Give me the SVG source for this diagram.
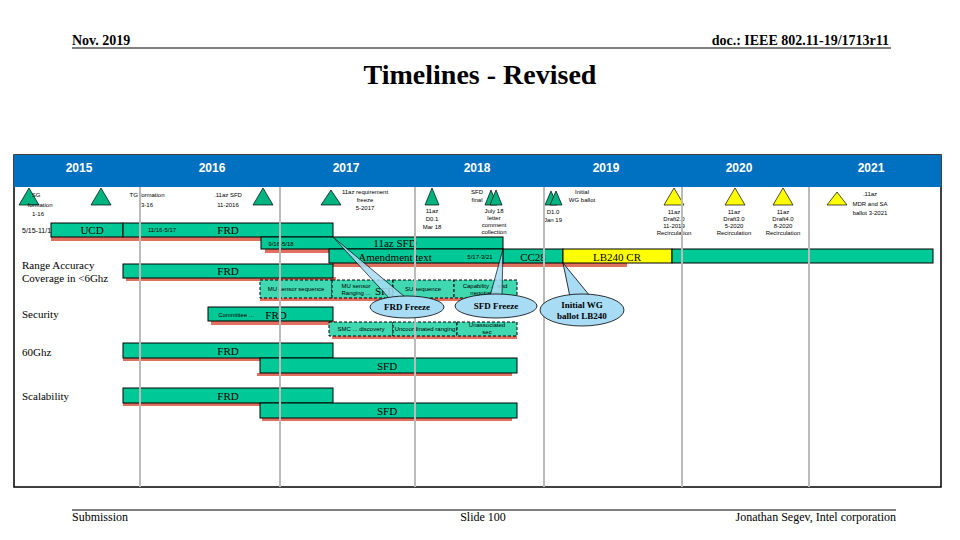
<svg xmlns="http://www.w3.org/2000/svg" width="960" height="540" viewBox="0 0 960 540">
<style>
.ser{font-family:"Liberation Serif","Times New Roman",serif;fill:#000}
.san{font-family:"Liberation Sans",Arial,sans-serif;fill:#000}
.yr{font-family:"Liberation Sans",Arial,sans-serif;fill:#fff;font-size:12px;text-anchor:middle;font-weight:bold}
.bar{fill:#00c896;stroke:#000;stroke-width:1}
.sh{fill:#e0705f}
.db{fill:#40d8b0;stroke:#000;stroke-width:1;stroke-dasharray:3,2}
.tg{fill:#00b482;stroke:#000;stroke-width:0.7}
.ty{fill:#ffff00;stroke:#000;stroke-width:0.7}
.sm{font-family:"Liberation Sans",Arial,sans-serif;font-size:6px;text-anchor:middle;fill:#000}
.bt{font-family:"Liberation Serif","Times New Roman",serif;font-size:11px;text-anchor:middle;fill:#000}
.co{fill:#a8dcf5;stroke:#000;stroke-width:0.8}
.div{stroke:#bbb;stroke-width:2}
</style>
<rect width="960" height="540" fill="#fff"/>
<g id="header">
<text x="72" y="45" class="ser" font-size="14" font-weight="bold">Nov. 2019</text>
<text x="889" y="45" class="ser" font-size="14" font-weight="bold" text-anchor="end">doc.: IEEE 802.11-19/1713r11</text>
<line x1="72" y1="48" x2="891" y2="48" stroke="#000"/>
<text x="480" y="84" class="ser" font-size="28" font-weight="bold" text-anchor="middle">Timelines - Revised</text>
</g>
<g id="frame">
<rect x="14" y="155" width="927" height="332" fill="#fff" stroke="#000" stroke-width="1.5"/>
<rect x="14" y="155" width="927" height="32" fill="#0070c0"/>
<text x="79" y="172" class="yr">2015</text>
<text x="212" y="172" class="yr">2016</text>
<text x="346" y="172" class="yr">2017</text>
<text x="477" y="172" class="yr">2018</text>
<text x="606" y="172" class="yr">2019</text>
<text x="739" y="172" class="yr">2020</text>
<text x="871" y="172" class="yr">2021</text>
</g>
<g id="milestones">
<polygon class="tg" points="29,188 19,205 39,205"/>
<text class="sm" x="36" y="197" font-size="7">SG</text>
<text class="sm" x="40" y="207" font-size="7">formation</text>
<text class="sm" x="38" y="216" font-size="7">1-16</text>
<polygon class="tg" points="101,188 91,205 111,205"/>
<text class="sm" x="147" y="197" font-size="7">TG formation</text>
<text class="sm" x="147" y="207" font-size="7">3-16</text>
<text class="sm" x="228" y="197" font-size="7">.11az SFD</text>
<text class="sm" x="228" y="207" font-size="7">11-2016</text>
<polygon class="tg" points="263,188 253,205 273,205"/>
<polygon class="tg" points="331,190 321,205 341,205"/>
<text class="sm" x="365" y="194">11az requirement</text>
<text class="sm" x="365" y="202">freeze</text>
<text class="sm" x="365" y="210">5-2017</text>
<polygon class="tg" points="432,188 425,205 439,205"/>
<text class="sm" x="432" y="213">11az</text>
<text class="sm" x="432" y="221">D0.1</text>
<text class="sm" x="432" y="229">Mar 18</text>
<polygon class="tg" points="491,190 485,205 497,205"/>
<polygon class="tg" points="496,190 490,205 502,205"/>
<text class="sm" x="477" y="194">SFD</text>
<text class="sm" x="477" y="202">final</text>
<text class="sm" x="494" y="213">July 18</text>
<text class="sm" x="494" y="220">letter</text>
<text class="sm" x="494" y="227">comment</text>
<text class="sm" x="494" y="234">collection</text>
<polygon class="tg" points="551,191 545,205 557,205"/>
<polygon class="tg" points="556,191 550,205 562,205"/>
<text class="sm" x="582" y="194">Initial</text>
<text class="sm" x="582" y="202">WG ballot</text>
<text class="sm" x="553" y="214">D1.0</text>
<text class="sm" x="553" y="222">Jan 19</text>
<polygon class="ty" points="674,188 664,205 684,205"/>
<text class="sm" x="674" y="214">11az</text>
<text class="sm" x="674" y="221">Draft2.0</text>
<text class="sm" x="674" y="228">11-2019</text>
<text class="sm" x="674" y="235">Recirculation</text>
<polygon class="ty" points="735,188 725,205 745,205"/>
<text class="sm" x="734" y="214">11az</text>
<text class="sm" x="734" y="221">Draft3.0</text>
<text class="sm" x="734" y="228">5-2020</text>
<text class="sm" x="734" y="235">Recirculation</text>
<polygon class="ty" points="783,188 773,205 793,205"/>
<text class="sm" x="783" y="214">11az</text>
<text class="sm" x="783" y="221">Draft4.0</text>
<text class="sm" x="783" y="228">8-2020</text>
<text class="sm" x="783" y="235">Recirculation</text>
<polygon class="ty" points="837,192 827,205 847,205"/>
<text class="sm" x="870" y="196" font-size="8">.11az</text>
<text class="sm" x="870" y="206" font-size="8">MDR and SA</text>
<text class="sm" x="870" y="215" font-size="8">ballot 3-2021</text>
</g>
<g id="labels">
<text x="22" y="233" class="san" font-size="7">5/15-11/15</text>
<text x="22" y="269" class="ser" font-size="11">Range Accuracy</text>
<text x="22" y="282" class="ser" font-size="11">Coverage in &lt;6Ghz</text>
<text x="22" y="318" class="ser" font-size="11">Security</text>
<text x="22" y="356" class="ser" font-size="11">60Ghz</text>
<text x="22" y="400" class="ser" font-size="11">Scalability</text>
</g>
<g id="bars">
<rect class="sh" x="51" y="237" width="285" height="4"/>
<rect class="bar" x="51" y="223" width="72" height="14"/>
<text class="bt" x="92" y="234">UCD</text>
<rect class="bar" x="123" y="223" width="210" height="14"/>
<text class="sm" x="162" y="232">11/16-5/17</text>
<text class="bt" x="228" y="234">FRD</text>
<rect class="sh" x="265" y="249" width="240" height="4"/>
<rect class="bar" x="261" y="237" width="242" height="12"/>
<text class="sm" x="281" y="246">9/16-5/18</text>
<text class="bt" x="395" y="247" font-size="12">11az SFD</text>
<rect class="sh" x="332" y="263" width="295" height="4"/>
<rect class="bar" x="329" y="249" width="174" height="14"/>
<text class="bt" x="395" y="261" font-size="12">Amendment text</text>
<text class="sm" x="480" y="259" font-size="7">5/17-3/21</text>
<rect class="bar" x="503" y="249" width="60" height="14"/>
<text class="bt" x="533" y="261" font-size="12">CC28</text>
<rect x="563" y="249" width="109" height="14" fill="#ff0" stroke="#000"/>
<text class="bt" x="617" y="261" font-size="12">LB240 CR</text>
<rect class="bar" x="672" y="249" width="261" height="14"/>
<rect class="sh" x="126" y="277" width="210" height="4"/>
<rect class="bar" x="123" y="264" width="210" height="14"/>
<text class="bt" x="228" y="275">FRD</text>
<rect class="sh" x="260" y="298" width="258" height="3"/>
<rect class="db" x="260" y="280" width="72" height="18"/>
<text class="sm" x="296" y="291">MU sensor sequence</text>
<rect class="db" x="332" y="280" width="61" height="18"/>
<text class="sm" x="356" y="288">MU sensor</text>
<text class="sm" x="356" y="295">Ranging ...</text>
<text class="bt" x="385" y="295" font-size="12" fill="#2a8a70">SFD</text>
<rect class="db" x="393" y="280" width="61" height="18"/>
<text class="sm" x="423" y="291">SU sequence</text>
<rect class="db" x="454" y="280" width="63" height="18"/>
<text class="sm" x="485" y="288">Capability ... and</text>
<text class="sm" x="485" y="295">negotiation</text>
<rect class="sh" x="211" y="321" width="124" height="4"/>
<rect class="bar" x="208" y="307" width="125" height="14"/>
<text class="sm" x="236" y="317">Committee ...</text>
<text class="bt" x="276" y="319" font-size="12">FRD</text>
<rect class="sh" x="332" y="336" width="185" height="3"/>
<rect class="db" x="329" y="322" width="64" height="14"/>
<text class="sm" x="361" y="331">SMC ... discovery</text>
<rect class="db" x="393" y="322" width="64" height="14"/>
<text class="sm" x="425" y="331">Uncoordinated ranging</text>
<rect class="db" x="457" y="322" width="60" height="14"/>
<text class="sm" x="487" y="327">Unassociated</text>
<text class="sm" x="487" y="334">sec</text>
<rect class="sh" x="123" y="358" width="212" height="3"/>
<rect class="bar" x="123" y="343" width="210" height="15"/>
<text class="bt" x="228" y="355">FRD</text>
<rect class="sh" x="257" y="373" width="255" height="3"/>
<rect class="bar" x="260" y="358" width="257" height="15"/>
<text class="bt" x="387" y="370">SFD</text>
<rect class="sh" x="123" y="403" width="212" height="3"/>
<rect class="bar" x="123" y="388" width="210" height="15"/>
<text class="bt" x="228" y="400">FRD</text>
<rect class="sh" x="262" y="418" width="250" height="3"/>
<rect class="bar" x="260" y="403" width="257" height="15"/>
<text class="bt" x="387" y="415">SFD</text>
</g>
<g id="dividers">
<line class="div" x1="140" y1="187" x2="140" y2="487"/>
<line class="div" x1="280" y1="187" x2="280" y2="487"/>
<line class="div" x1="415" y1="187" x2="415" y2="487"/>
<line class="div" x1="544" y1="187" x2="544" y2="487"/>
<line class="div" x1="682" y1="187" x2="682" y2="487"/>
<line class="div" x1="809" y1="187" x2="809" y2="487"/>
</g>
<g id="callouts">
<path class="co" d="M390,299 L333,237 L405,297 Z" opacity="0.85"/>
<ellipse class="co" cx="407" cy="307" rx="37" ry="11"/>
<text x="407" y="310" class="ser" font-size="9" font-weight="bold" text-anchor="middle">FRD Freeze</text>
<path class="co" d="M490,296 L503,249 L502,296 Z" opacity="0.85"/>
<ellipse class="co" cx="496" cy="306" rx="41" ry="12"/>
<text x="496" y="309" class="ser" font-size="9" font-weight="bold" text-anchor="middle">SFD Freeze</text>
<path class="co" d="M570,297 L563,263 L590,296 Z"/>
<ellipse class="co" cx="582" cy="310" rx="42" ry="16"/>
<text x="582" y="308" class="ser" font-size="9" font-weight="bold" text-anchor="middle">Initial WG</text>
<text x="582" y="319" class="ser" font-size="9" font-weight="bold" text-anchor="middle">ballot LB240</text>
</g>
<g id="footer">
<line x1="72" y1="510" x2="896" y2="510" stroke="#000"/>
<text x="72" y="521" class="ser" font-size="12">Submission</text>
<text x="483" y="521" class="ser" font-size="12" text-anchor="middle">Slide 100</text>
<text x="896" y="521" class="ser" font-size="12" text-anchor="end">Jonathan Segev, Intel corporation</text>
</g>
</svg>
